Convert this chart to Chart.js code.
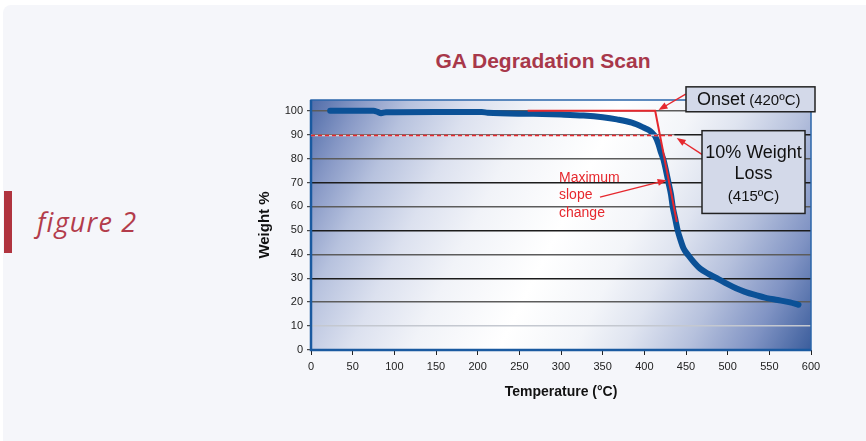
<!DOCTYPE html>
<html>
<head>
<meta charset="utf-8">
<script src="https://cdn.jsdelivr.net/npm/chart.js@4"></script>
<style>
	html, body { margin: 0; padding: 0; background: #fff; }
	#wrap { position: relative; width: 866px; height: 441px; overflow: hidden; }
	#panel { position: absolute; left: 3px; top: 5px; width: 900px; height: 480px; background: #f5f6fa; border-radius: 8px; }
	#bar { position: absolute; left: 4px; top: 191px; width: 8px; height: 62px; background: #b0343f; }
	#fig { position: absolute; left: 37px; top: 203px; font: italic 27px "Open Sans", sans-serif; letter-spacing: 1.2px; color: #b33c4b; }
	#title { position: absolute; left: 343px; top: 49px; width: 400px; text-align: center; font: bold 21px "Liberation Sans", Arial, sans-serif; line-height: 24px; color: #a8384a; }
	canvas { position: absolute; left: 0; top: 0; }
</style>
</head>
<body>
<div id="wrap">
	<div id="panel"></div>
	<div id="bar"></div>
	<div id="fig">figure 2</div>
	<div id="title">GA Degradation Scan</div>
	<canvas id="chart" width="866" height="441"></canvas>
</div>
<script>
// TGA curve
const temperature = [23, 50, 75, 80, 84, 90, 150, 205, 212, 267, 300, 327, 350, 367, 385, 399, 406, 410, 413, 417, 420, 423, 426, 429, 432, 434, 437, 440, 443, 447, 453, 460, 467, 477, 487, 500, 510, 520, 535, 547, 560, 575, 585];
const weight = [100, 100, 100, 99.5, 99.0, 99.4, 99.5, 99.5, 99.2, 98.7, 98.4, 98.0, 97.3, 96.4, 95, 93, 91.8, 90.5, 89.3, 86, 82.5, 79.5, 75, 70, 65, 60, 55, 50, 46.5, 42.5, 39.5, 36.5, 34, 31.8, 30, 27.5, 25.8, 24.4, 22.8, 21.7, 20.9, 19.9, 18.9];

// construction lines
const onsetT = [260, 413, 439];
const onsetW = [100, 100, 53.5];
const lossT = [0, 436];
const lossW = [89.7, 89.7];

const xTicks = [0, 50, 100, 150, 200, 250, 300, 350, 400, 450, 500, 550, 600];
const yTicks = [0, 10, 20, 30, 40, 50, 60, 70, 80, 90, 100];

const toPoints = (xs, ys) => xs.map((x, i) => ({ x, y: ys[i] }));

const RED = '#e6282e';
const FONT = '"Liberation Sans", Arial, sans-serif';

// annotation boxes / arrows, placed in data units
const notes = {
	boxes: [
		{ t0: 450, t1: 604.8, w0: 110, w1: 99.58,
			lines: [[{ s: 'Onset', f: 18 }, { s: ' (420ºC)', f: 15 }]], left: 11, base: [18] },
		{ t0: 469.2, t1: 592.8, w0: 91.67, w1: 57.08,
			lines: [[{ s: '10% Weight', f: 18 }], [{ s: 'Loss', f: 18 }], [{ s: '(415ºC)', f: 15 }]], base: [27, 48, 70] }
	],
	arrows: [
		{ from: [449.6, 106.96], to: [417, 100.3] },
		{ from: [469.6, 81.7], to: [438.8, 88.6] },
		{ from: [346.8, 63.9], to: [426.8, 71] }
	],
	slopeText: { t: 297.6, w: [70.1, 63.0, 55.6], lines: ['Maximum', 'slope', 'change'] }
};

const backdrop = {
	id: 'backdrop',
	beforeDraw(chart) {
		const { ctx, chartArea: a } = chart;
		const g = ctx.createLinearGradient(a.left, a.top, a.right, a.bottom);
		g.addColorStop(0, '#506ca9');
		g.addColorStop(0.08, '#8899c6');
		g.addColorStop(0.16, '#b7c2de');
		g.addColorStop(0.26, '#dce1ef');
		g.addColorStop(0.36, '#f1f3f8');
		g.addColorStop(0.5, '#ffffff');
		g.addColorStop(0.62, '#f3f5f9');
		g.addColorStop(0.7, '#dfe4f0');
		g.addColorStop(0.8, '#b6c1dd');
		g.addColorStop(0.9, '#8194c4');
		g.addColorStop(1, '#3b5d9c');
		ctx.save();
		ctx.fillStyle = g;
		ctx.fillRect(a.left, a.top, a.right - a.left, a.bottom - a.top);
		ctx.restore();
	},
	beforeDatasetsDraw(chart) {
		const { ctx, chartArea: a } = chart;
		ctx.save();
		ctx.strokeStyle = '#2a66aa';
		ctx.lineWidth = 1.5;
		ctx.strokeRect(a.left, a.top, a.right - a.left, a.bottom - a.top);
		ctx.lineWidth = 2.5;
		ctx.strokeStyle = '#1a5aa0';
		ctx.beginPath();
		ctx.moveTo(a.left, a.top);
		ctx.lineTo(a.left, a.bottom);
		ctx.lineTo(a.right, a.bottom);
		ctx.stroke();
		ctx.restore();
	}
};

const notesPlugin = {
	id: 'notes',
	afterDatasetsDraw(chart) {
		const { ctx } = chart;
		const X = v => chart.scales.x.getPixelForValue(v);
		const Y = v => chart.scales.y.getPixelForValue(v);
		ctx.save();
		// arrows
		notes.arrows.forEach(ar => {
			const x0 = X(ar.from[0]), y0 = Y(ar.from[1]), x1 = X(ar.to[0]), y1 = Y(ar.to[1]);
			const ang = Math.atan2(y1 - y0, x1 - x0);
			ctx.strokeStyle = RED;
			ctx.fillStyle = RED;
			ctx.lineWidth = 1.4;
			ctx.beginPath();
			ctx.moveTo(x0, y0);
			ctx.lineTo(x1 - 6 * Math.cos(ang), y1 - 6 * Math.sin(ang));
			ctx.stroke();
			ctx.beginPath();
			ctx.moveTo(x1, y1);
			ctx.lineTo(x1 - 9 * Math.cos(ang) + 3.5 * Math.sin(ang), y1 - 9 * Math.sin(ang) - 3.5 * Math.cos(ang));
			ctx.lineTo(x1 - 9 * Math.cos(ang) - 3.5 * Math.sin(ang), y1 - 9 * Math.sin(ang) + 3.5 * Math.cos(ang));
			ctx.closePath();
			ctx.fill();
		});
		// boxes
		notes.boxes.forEach(b => {
			const l = X(b.t0), r = X(b.t1), t = Y(b.w0), btm = Y(b.w1);
			ctx.fillStyle = '#d3d9e9';
			ctx.fillRect(l, t, r - l, btm - t);
			ctx.strokeStyle = '#222';
			ctx.lineWidth = 1.5;
			ctx.strokeRect(l, t, r - l, btm - t);
			ctx.fillStyle = '#111';
			ctx.textBaseline = 'alphabetic';
			ctx.textAlign = 'left';
			b.lines.forEach((segs, i) => {
				let width = 0;
				segs.forEach(sg => { ctx.font = sg.f + 'px ' + FONT; width += ctx.measureText(sg.s).width; });
				let x = b.left !== undefined ? l + b.left : (l + r) / 2 - width / 2;
				segs.forEach(sg => {
					ctx.font = sg.f + 'px ' + FONT;
					ctx.fillText(sg.s, x, t + b.base[i]);
					x += ctx.measureText(sg.s).width;
				});
			});
		});
		// slope label
		ctx.fillStyle = RED;
		ctx.font = '14px ' + FONT;
		notes.slopeText.lines.forEach((s, i) => ctx.fillText(s, X(notes.slopeText.t), Y(notes.slopeText.w[i])));
		ctx.restore();
	}
};

const gridColor = v => {
	if (v === 0) return 'rgba(0,0,0,0)';
	if (v === 10) return '#c4c8d0';
	return v % 20 === 0 ? '#5c5c5c' : '#1c1c1c';
};

new Chart(document.getElementById('chart'), {
	type: 'scatter',
	data: {
		datasets: [
			{ data: toPoints(onsetT, onsetW), showLine: true, borderColor: RED, borderWidth: 2, pointRadius: 0, tension: 0 },
			{ data: toPoints(lossT, lossW), showLine: true, borderColor: RED, borderWidth: 1.5, borderDash: [4, 3], pointRadius: 0 },
			{ data: toPoints(lossT, lossW), showLine: true, borderColor: 'rgba(248,225,228,0.85)', borderWidth: 1.8, pointRadius: 0 },
			{ data: toPoints(temperature, weight), showLine: true, borderColor: '#0b5197', borderWidth: 6,
				borderCapStyle: 'round', borderJoinStyle: 'round', pointRadius: 0, cubicInterpolationMode: 'monotone' }
		]
	},
	options: {
		responsive: false,
		animation: false,
		layout: { padding: { left: 252, right: 55, top: 100, bottom: 31 } },
		plugins: { legend: { display: false }, tooltip: { enabled: false } },
		scales: {
			x: {
				type: 'linear', min: 0, max: 600,
				afterBuildTicks: s => { s.ticks = xTicks.map(v => ({ value: v })); },
				afterFit: s => { s.height = 60; },
				grid: { display: true, drawOnChartArea: false, tickLength: 5, tickColor: '#222', tickWidth: 1 },
				border: { display: false },
				ticks: { padding: 5, color: '#222', font: { family: FONT, size: 11 }, maxRotation: 0 },
				title: { display: true, text: 'Temperature (°C)', color: '#111', font: { family: FONT, size: 14, weight: 'bold' }, padding: { top: 4, bottom: 9 } }
			},
			y: {
				min: 0, max: 104.5,
				afterBuildTicks: s => { s.ticks = yTicks.map(v => ({ value: v })); },
				afterFit: s => { s.width = 59; },
				grid: { color: c => gridColor(c.tick.value), lineWidth: 1.4, tickLength: 4, tickColor: '#222', tickWidth: 1 },
				border: { display: false },
				ticks: { padding: 4, color: '#222', font: { family: FONT, size: 11 } },
				title: { display: true, text: 'Weight %', color: '#111', font: { family: FONT, size: 15, weight: 'bold' }, padding: { top: 4, bottom: 4 } }
			}
		}
	},
	plugins: [backdrop, notesPlugin]
});
</script>
</body>
</html>
